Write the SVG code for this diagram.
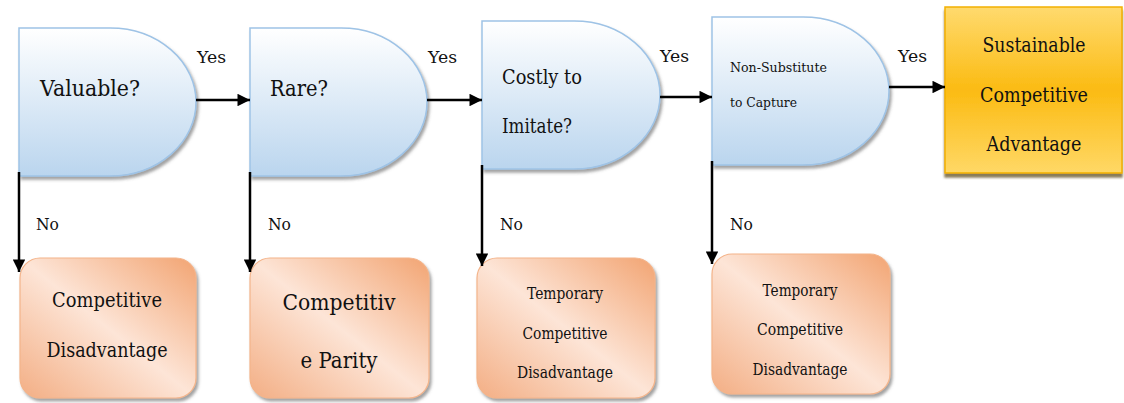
<svg xmlns="http://www.w3.org/2000/svg" width="1124" height="403" viewBox="0 0 1124 403" font-family="'DejaVu Serif', 'Liberation Serif', serif">
<style>
text{font-family:'DejaVu Serif','Liberation Serif',serif;fill:#111;}
.m{text-anchor:middle;}
.d{fill:url(#gBlue);stroke:#9ec3e6;stroke-width:1.5;filter:url(#sh);}
.o{fill:url(#gOr);stroke:#f4b48a;stroke-width:1.2;filter:url(#sh);}
.c{stroke:#000;stroke-width:2.5;fill:none;marker-end:url(#ah);}
</style>
<defs>
<linearGradient id="gBlue" x1="0" y1="0" x2="0" y2="1">
<stop offset="0" stop-color="#ffffff"/>
<stop offset="1" stop-color="#bad5ee"/>
</linearGradient>
<linearGradient id="gGold" x1="0" y1="0" x2="0" y2="1">
<stop offset="0" stop-color="#ffda6e"/>
<stop offset="0.5" stop-color="#fbbb12"/>
<stop offset="1" stop-color="#ffd866"/>
</linearGradient>
<linearGradient id="gOr" x1="1" y1="0" x2="0" y2="1">
<stop offset="0" stop-color="#f2a472"/>
<stop offset="0.5" stop-color="#fde5d7"/>
<stop offset="1" stop-color="#f3ae84"/>
</linearGradient>
<filter id="sh" x="-10%" y="-10%" width="125%" height="125%">
<feDropShadow dx="2" dy="3" stdDeviation="1.5" flood-color="#555" flood-opacity="0.55"/>
</filter>
<filter id="shg" x="-10%" y="-10%" width="125%" height="125%">
<feDropShadow dx="0" dy="4" stdDeviation="1" flood-color="#6b5a30" flood-opacity="0.8"/>
</filter>
<marker id="ah" viewBox="0 0 10 10" refX="10" refY="5" markerWidth="5.6" markerHeight="5" markerUnits="strokeWidth" orient="auto">
<path d="M0,0 L10,5 L0,10 Z" fill="#000"/>
</marker>
</defs>

<g id="n1"><path class="d" d="M19,28 H110 A86,74 0 0 1 110,176 H19 Z"/><text x="40" y="96" font-size="22" textLength="100" lengthAdjust="spacingAndGlyphs">Valuable?</text></g>
<g id="n2"><path class="d" d="M250,28 H341 A86,74 0 0 1 341,176 H250 Z"/><text x="270" y="96" font-size="22" textLength="58" lengthAdjust="spacingAndGlyphs">Rare?</text></g>
<g id="n3"><path class="d" d="M482,21 H574 A86,74 0 0 1 574,169 H482 Z"/><text x="502" y="84" font-size="20" textLength="80" lengthAdjust="spacingAndGlyphs">Costly to</text><text x="502" y="133" font-size="20" textLength="70" lengthAdjust="spacingAndGlyphs">Imitate?</text></g>
<g id="n4"><path class="d" d="M712,17 H803 A86,74 0 0 1 803,165 H712 Z"/><text x="730" y="72" font-size="13" textLength="97" lengthAdjust="spacingAndGlyphs">Non-Substitute</text><text x="730" y="107" font-size="13" textLength="67" lengthAdjust="spacingAndGlyphs">to Capture</text></g>
<g id="n5"><rect x="945" y="7" width="177" height="166" fill="url(#gGold)" stroke="#f2b000" stroke-width="1.5" filter="url(#shg)"/>
<g class="m" font-size="20"><text x="1034" y="52" textLength="103" lengthAdjust="spacingAndGlyphs">Sustainable</text><text x="1034" y="102" textLength="108" lengthAdjust="spacingAndGlyphs">Competitive</text><text x="1034" y="151" textLength="95" lengthAdjust="spacingAndGlyphs">Advantage</text></g></g>

<g id="b1"><rect class="o" x="20" y="258" width="176" height="140" rx="20"/>
<g class="m" font-size="20"><text x="107" y="307" textLength="110" lengthAdjust="spacingAndGlyphs">Competitive</text><text x="107" y="357" textLength="121" lengthAdjust="spacingAndGlyphs">Disadvantage</text></g></g>
<g id="b2"><rect class="o" x="250" y="258" width="179" height="140" rx="20"/>
<g class="m" font-size="23"><text x="339" y="310" textLength="113" lengthAdjust="spacingAndGlyphs">Competitiv</text><text x="339" y="368" textLength="77" lengthAdjust="spacingAndGlyphs">e Parity</text></g></g>
<g id="b3"><rect class="o" x="477" y="258" width="178" height="140" rx="20"/>
<g class="m" font-size="16"><text x="565" y="299" textLength="76" lengthAdjust="spacingAndGlyphs">Temporary</text><text x="565" y="339" textLength="85" lengthAdjust="spacingAndGlyphs">Competitive</text><text x="565" y="378" textLength="96" lengthAdjust="spacingAndGlyphs">Disadvantage</text></g></g>
<g id="b4"><rect class="o" x="712" y="254" width="178" height="140" rx="20"/>
<g class="m" font-size="16"><text x="800" y="296" textLength="75" lengthAdjust="spacingAndGlyphs">Temporary</text><text x="800" y="335" textLength="86" lengthAdjust="spacingAndGlyphs">Competitive</text><text x="800" y="375" textLength="95" lengthAdjust="spacingAndGlyphs">Disadvantage</text></g></g>

<g id="connectors">
<line class="c" x1="196" y1="100" x2="250" y2="100"/>
<line class="c" x1="427" y1="100" x2="482" y2="100"/>
<line class="c" x1="660" y1="97" x2="712" y2="97"/>
<line class="c" x1="889" y1="87" x2="945" y2="87"/>
<line class="c" x1="19" y1="172" x2="19" y2="272"/>
<line class="c" x1="250" y1="172" x2="250" y2="272"/>
<line class="c" x1="482" y1="165" x2="482" y2="266"/>
<line class="c" x1="712" y1="161" x2="712" y2="264"/>
<g font-size="17">
<text x="197" y="63" textLength="29" lengthAdjust="spacingAndGlyphs">Yes</text>
<text x="428" y="63" textLength="29" lengthAdjust="spacingAndGlyphs">Yes</text>
<text x="660" y="62" textLength="29" lengthAdjust="spacingAndGlyphs">Yes</text>
<text x="898" y="62" textLength="29" lengthAdjust="spacingAndGlyphs">Yes</text>
<text x="36" y="230" textLength="23" lengthAdjust="spacingAndGlyphs">No</text>
<text x="268" y="230" textLength="23" lengthAdjust="spacingAndGlyphs">No</text>
<text x="500" y="230" textLength="23" lengthAdjust="spacingAndGlyphs">No</text>
<text x="730" y="230" textLength="23" lengthAdjust="spacingAndGlyphs">No</text>
</g>
</g>
</svg>
